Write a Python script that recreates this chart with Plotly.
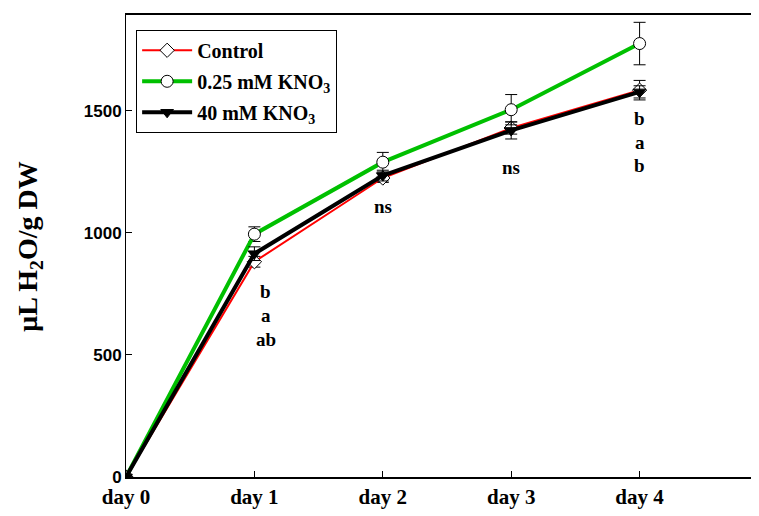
import plotly.graph_objects as go

days = [0, 1, 2, 3, 4]
day_labels = ["day 0", "day 1", "day 2", "day 3", "day 4"]

control = [0, 882, 1225, 1430, 1585]
control_err = [0, 22, 18, 25, 40]
kno3_025 = [0, 995, 1290, 1505, 1776]
kno3_025_err = [0, 30, 40, 62, 87]
kno3_40 = [0, 915, 1235, 1420, 1578]
kno3_40_err = [0, 28, 22, 35, 25]

sig_x = [1.09, 1.09, 1.09, 2, 3, 4, 4, 4]
sig_y = [762, 660, 565, 1110, 1270, 1470, 1370, 1275]
sig_text = ["b", "a", "ab", "ns", "ns", "b", "a", "b"]

serif = "Liberation Serif"

fig = go.Figure()

def err(vals):
    return dict(type="data", array=vals, visible=True, color="black", thickness=1, width=6)

fig.add_trace(go.Scatter(
    x=days, y=control, name="<b>Control</b>", mode="lines+markers", legendgroup="g1",
    line=dict(color="#ff0000", width=2),
    marker=dict(symbol="diamond", size=11, color="white", line=dict(color="black", width=1)),
    error_y=err(control_err)))
fig.add_trace(go.Scatter(
    x=days, y=kno3_025, name="<b>0.25 mM KNO<sub>3</sub></b>", mode="lines+markers", legendgroup="g2",
    line=dict(color="#00c000", width=4),
    marker=dict(symbol="circle", size=12, color="white", line=dict(color="black", width=1)),
    error_y=err(kno3_025_err)))
fig.add_trace(go.Scatter(
    x=days, y=kno3_40, name="<b>40 mM KNO<sub>3</sub></b>", mode="lines+markers", legendgroup="g3",
    line=dict(color="black", width=4),
    marker=dict(symbol="triangle-down", size=11, color="black", line=dict(color="black", width=1)),
    error_y=err(kno3_40_err)))

for x, y, t in zip(sig_x, sig_y, sig_text):
    fig.add_annotation(x=x, y=y, text="<b>%s</b>" % t, showarrow=False,
                       font=dict(family=serif, size=19, color="black"))

fig.add_annotation(xref="paper", yref="paper", x=-0.152, y=0.498, xanchor="center", yanchor="middle",
                   text="<b>μL H<sub>2</sub>O/g DW</b>", textangle=-90, showarrow=False,
                   font=dict(family=serif, size=28, color="black"))

fig.update_layout(
    width=751, height=508,
    margin=dict(l=118, r=0, t=7, b=39),
    plot_bgcolor="white", paper_bgcolor="white",
    showlegend=True,
    legend=dict(x=0.016, y=0.968, xanchor="left", yanchor="top",
                bordercolor="black", borderwidth=1, bgcolor="white",
                font=dict(family=serif, size=20, color="black"),
                itemwidth=50, tracegroupgap=2),
    xaxis=dict(range=[0, 4.93], tickvals=days, ticktext=["<b>%s</b>" % d for d in day_labels],
               showgrid=False, zeroline=False, showline=True, linecolor="black", linewidth=1.5,
               mirror=True, ticks="inside", ticklen=6, tickcolor="black", automargin=False,
               tickfont=dict(family=serif, size=21, color="black")),
    yaxis=dict(range=[0, 1893], tickvals=[0, 500, 1000, 1500], automargin=False,
               showgrid=False, zeroline=False, showline=True, linecolor="black", linewidth=1,
               ticks="inside", ticklen=6, tickcolor="black",
               tickfont=dict(family="Liberation Sans", size=17, color="black", weight="bold")),
)

fig.write_html("out.html")
